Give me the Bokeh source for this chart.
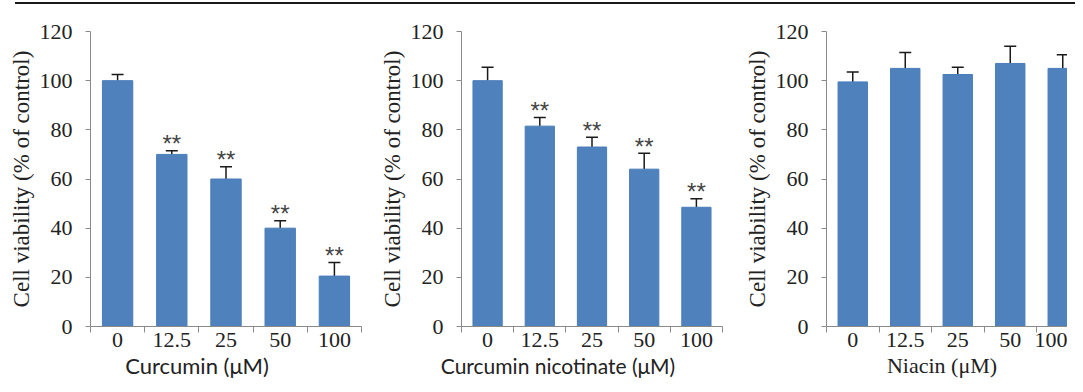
from bokeh.plotting import figure
from bokeh.models import Range1d, FixedTicker, ColumnDataSource, Whisker, TeeHead, Div
from bokeh.layouts import row, column
from bokeh.embed import file_html
from bokeh.resources import INLINE
from bokeh.core.properties import value

doses = ["0", "12.5", "25", "50", "100"]
y_ticks = [0, 20, 40, 60, 80, 100, 120]

curcumin_mean = [100, 70, 60, 40, 20.5]
curcumin_err = [2.5, 1.5, 5, 3, 5.5]
curcumin_sig = ["", "**", "**", "**", "**"]

nicotinate_mean = [100, 81.5, 73, 64, 48.5]
nicotinate_err = [5.5, 3.5, 4, 6.5, 3.5]
nicotinate_sig = ["", "**", "**", "**", "**"]

niacin_mean = [99.5, 105, 102.5, 107, 105]
niacin_err = [4, 6.5, 3, 7, 5.5]
niacin_sig = ["", "", "", "", ""]

y_label = "Cell viability (% of control)"
x_labels = ["Curcumin (\u03bcM)", "Curcumin nicotinate (\u03bcM)", "Niacin (\u03bcM)"]

AXIS = "#8a8a8a"
TXT = "#222222"
SERIF = "Liberation Serif"
SANS = "Lato"


def make_panel(means, errs, sigs, width, bl, br, x_end):
    xs = [i + 0.5 for i in range(len(doses))]
    src = ColumnDataSource(dict(
        x=xs, top=means,
        upper=[m + e for m, e in zip(means, errs)],
        sig=sigs,
    ))
    p = figure(width=width, height=352, x_range=Range1d(0, x_end), y_range=Range1d(0, 120),
               output_backend="svg", toolbar_location=None,
               min_border_left=bl, min_border_right=br,
               min_border_top=27, min_border_bottom=30)
    p.vbar(x="x", top="top", bottom=0, width=0.56, source=src,
           fill_color="#4f81bd", line_color="#4a7dba", line_width=1)
    wh = Whisker(base="x", upper="upper", lower="top", source=src, dimension="height",
                 line_color="#1a1a1a", line_width=1.5, lower_head=None,
                 upper_head=TeeHead(size=12, line_color="#1a1a1a", line_width=1.5))
    p.add_layout(wh)
    p.text(x="x", y="upper", text="sig", source=src, text_align="center",
           text_baseline="alphabetic", y_offset=-7,
           text_font=value("Liberation Sans"), text_font_size="24px", text_color="#444444")

    p.xgrid.visible = False
    p.ygrid.visible = False
    p.outline_line_color = None
    p.background_fill_color = None
    p.border_fill_color = None

    xa = p.xaxis[0]
    xa.ticker = FixedTicker(ticks=xs, minor_ticks=list(range(len(doses) + 1)))
    xa.major_label_overrides = {x: d for x, d in zip(xs, doses)}
    xa.axis_line_color = AXIS
    xa.major_tick_out = 0
    xa.major_tick_in = 0
    xa.minor_tick_out = 6
    xa.minor_tick_in = 0
    xa.minor_tick_line_color = AXIS
    xa.major_label_text_font = SERIF
    xa.major_label_text_font_size = "22px"
    xa.major_label_text_color = TXT
    xa.major_label_standoff = 0

    ya = p.yaxis[0]
    ya.ticker = FixedTicker(ticks=y_ticks)
    ya.axis_line_color = AXIS
    ya.major_tick_line_color = AXIS
    ya.major_tick_out = 5
    ya.major_tick_in = 0
    ya.minor_tick_out = 0
    ya.minor_tick_in = 0
    ya.major_label_text_font = SERIF
    ya.major_label_text_font_size = "22px"
    ya.major_label_text_color = TXT
    ya.major_label_standoff = 13
    ya.axis_label = y_label
    ya.axis_label_text_font = SERIF
    ya.axis_label_text_font_size = "23px"
    ya.axis_label_text_font_style = "normal"
    ya.axis_label_text_color = TXT
    ya.axis_label_standoff = 3
    return p


def x_title(text, font, size, center, width):
    html = ('<span style="display:inline-block;white-space:nowrap;margin-left:%dpx;'
            'transform:translateX(-50%%);font-family:\'%s\';font-size:%s;line-height:20px;'
            'color:%s">%s</span>' % (center, font, size, TXT, text))
    return Div(text=html, width=width, height=20, margin=0)


p1 = make_panel(curcumin_mean, curcumin_err, curcumin_sig, 372, 90, 11, 5)
p2 = make_panel(nicotinate_mean, nicotinate_err, nicotinate_sig, 363, 89, 13, 5)
p3 = make_panel(niacin_mean, niacin_err, niacin_sig, 332, 91, 0, 241 / 52.5)

t1 = x_title(x_labels[0], SANS, "22px", 197, 372)
t2 = x_title(x_labels[1], SANS, "21px", 186, 363)
t3 = x_title(x_labels[2], SERIF, "22px", 207, 332)

top_rule = Div(text="", width=1060, height=2, margin=(2, 0, 0, 15),
               styles={"background-color": "#1a1a1a"})

layout = column(top_rule, row(p1, p2, p3, spacing=0), row(t1, t2, t3, spacing=0), spacing=0)
open("out.html", "w").write(file_html(layout, INLINE))
